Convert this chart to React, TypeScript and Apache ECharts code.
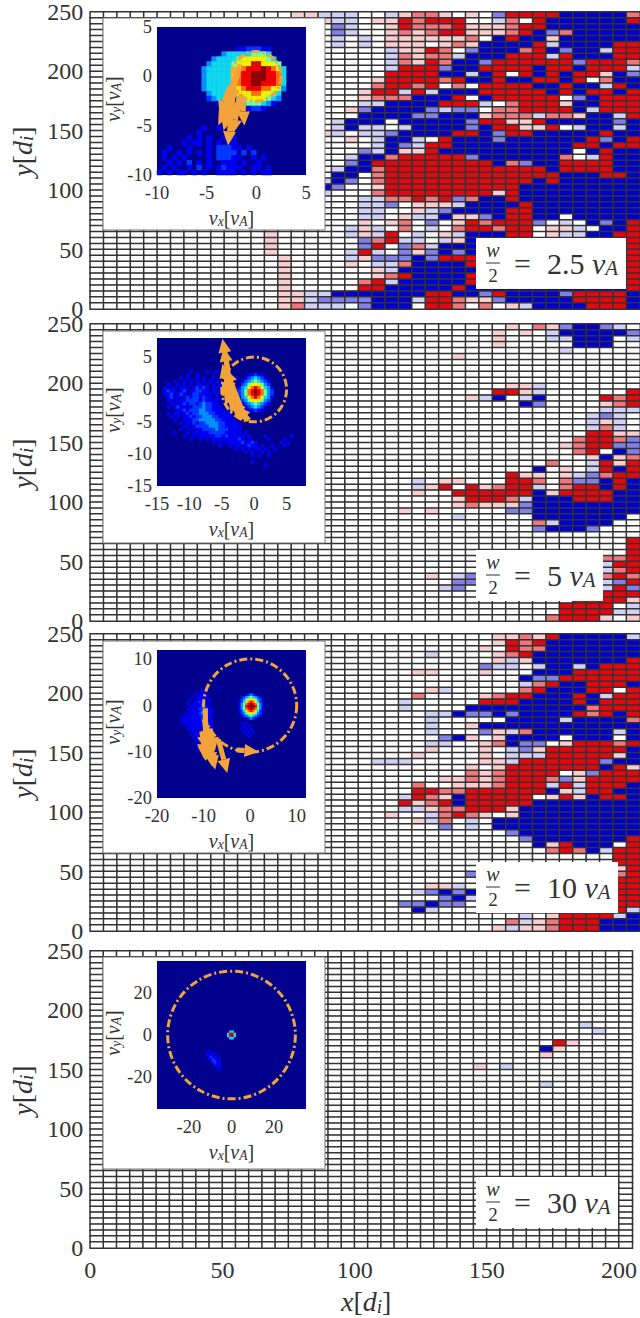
import React, { useEffect, useRef } from "react";
import * as echarts from "echarts";

const FONT = '"Liberation Serif", "DejaVu Serif", serif';
const ORANGE = "#F2A33A";
const TEXT = "#333333";

// level codes of the colour cells: B b c . p r R
const CELL_LEVELS: Record<string, number> = { B: -1, b: -0.5, c: -0.18, ".": 0, p: 0.2, r: 0.55, R: 1 };
const COLUMNS = 41;
const ROWS = 50;

// each row is right-aligned on the last column, first row is the top of the panel
const fieldA = [
  "ppccc..cprrp.p.bRRRRBBBBBr", "pcc.ppRrRRR..cr.RBBBBBBR", ".bc..pRrrrRppprRRBBBBBBB", ".bc..prprRRppprRBbrBBBBB",
  ".c.c.ppppppr.BRBBpBBBBBB", ".c.c.ppp.prpBBBBRcBBBBRR", ".....cppRr.bBBBrRBbBBcRR", ".....crprrcBBBRRRcRBBBRR",
  ".....crpRrBBbRRRRRRbRRRr", ".....cRRRbBBRRRRBRRBRRRc", ".....RRRRBBcBR.RBRBRRpBb", "....pRRRRrRBBRBBRRBR.rBB",
  "....rRRrR.r.RRRRBBRBBcRB", "...pRRcRcBBBRRRRRBRBRRBR", "...prrrBBBR.BRRRRR.bBRRR", "...ccBBBBRRRc.rRRRpBBRRR",
  "..pbBBBBbcbb.rrRRRRBcRRR", "...BBBBbbBBBprrrcrrpBBcR", ".cBBB.BBBBBbRRppRBBBBBbB", ".cBcc.cBBBBbBRRppR.cBBcB",
  "pc.ccbBBBBRRBbRRBBBBBRBB", "..p.cBBc.RBBBbBBBBBBRbBR", "....cBbcRRBBBBBBBBBRRBRR", "...bcBppRBBBBBBBBBB.BRBB",
  "..cBBrRRRRRbBBBBBBr.cRBB", "..bBRRRRRRRRRBrbBBRRRRBB", ".cBBrRRRRRRRRRRRRBRRRRBB", ".BB.rRRRRRRRRRRRRRBBBRRB",
  "cBb.rRRRRRRRRRRRBRBBBBBB", "Bb..pRRRRRRRRRRBBBBBBBBB", "c...rRRRRRRRRpRBBBBBBBBB", "...ccrrRrRbrBBRBBBBBBBBB",
  "...ccb.pppcBBBBRBBBBBBBB", "...cc..pcbBBBBRRBBBBBBBB", "...cc.pccBppbBRRBB.BBBBB", "...p.pr.b.pRrRRRb.c.BbBR",
  "..cpc.r.c.rRRrRR.ppc.BBR", "p.....cpcR.c.pcBBBRR.pccBBRR", "p......brRcc.cpBBBBBBBBBBBBR", "p......bR.brcBBBBBBBBBBBBBBR",
  "p.....cRc.bpbBbBBBBBBBBBBBBR", ".p....cpbbbBbRRRBBBBBBBBBBBR", ".p....p.ccrBBBBRBBBBBBBBBBBR", ".p......pcBBBBBBRBBBBBBBBBBR",
  ".p......prRBBBBRRBBBBBBBBBBR", ".p.....rRcBBBBBRRBBBBBBBBBBR", ".p.....RRBBBBBRBBBBBBBBBBBBR", ".ppccBBBBBBBRRBBbRBBBBbRRRRB",
  ".ppcbbbbBBBcRRrppbBBBBBRRRRB", ".prccc.bBBB.RRr.r.pcBBBBRRRB",
];
const fieldB = [
  "p.rpbBBbc.", "p.p.cBBBBBb", "p...ccBBB.c", "p.....BBB..", "c.....", "p.............", "", "", "", "",
  "ppc.......", "RRpc......R", "pcB.cB....RrR", "Bb....prR", "ccc", "cbc.", "cpc.", "crc.", "RRpp", "rRRrb",
  "prRRbb", "rR.Bb", "pBpr", "r..cRpR", "B.p.cRBR", "Rpp.pcbrRR", "c.pp...RRr.rbbBRB", "cpR.RprRRc.rRRBRB", "p..RRRRRRBpRRRRBB", "pRRRrcBBBRRRBB",
  "prpppbBBBBBBBB", "p.p.....bbBBBBBBBB", "c.....BBBBBBB.", "rcBBBB..", "bBBBb...", "", "R", "R", "p.....R", "rrR",
  "cRR", "crR", "p.cb.........rRr", "bb.........cbR", "cb..........cRb", "RRRR", "RRRRp", "RRRR.c", "RRRRcc", "rRRRp.p",
];
const fieldC = [
  "pprpRBBBBBc", "pRrRBBBBBBB", "p.RrrBBBBBBB", "c....prRBBBBBBBB", "pcpBBBBBBBR", "bcc.cBBcBRRR", "pp...p...BBBRRRRR", "BbbRRRRRR", "crRBBRRRB", "pc.....rRBBBRR.R",
  "r....prRRBBBRBcRR", "c.....RRRBBBBRBRRR", "c....BBBBBBBBBrRRR", "ccBbbBbBBBBRrRBR", "c.....BBBBcBBBBr", "c..pBBBBBBBBBBBB", "c...bpcrBBBBBBcB", "bBp.pBBBB.BBB.B", "cc..prBbb.pRRRrR", "p...p.cbpRRRRRRB",
  "p....p.cccRRRRRpB", "ccc.....ppcRRRRRRbBB", "p.pRRRRRRRBRp", "rprRRRR.pbRRR", "pprprRRRrbpRRRR", "r..ppprRRRcRcRRRB", "RRrrRRRRRRBpcRRBB", "cRrpBRRRRR.pRpBRRB", "RprRBRRRRRBBBBBBBB", "ccprrRRRpBBBBBBBBB",
  "p..crRrp.pBBBBBBBBB", "pcr.c.BBBBBBBBBBB", "b.c.BBBBBBBBBBB", "bBBBBBBBBB", "bBBBBBBBR", "BpRBBB.R", "rRrBcRR", "RR", "RR", "pR",
  "b..........rR", "RR", "ppc...........RR", "cbBbB..........RR", "bBc..........RR", "bbBbb...........RR", "Bc.....pcp.pRRRRc", "c.pRRRRcB", "rcprRRRBBB", "pcpprRRRBBB",
];
const fieldD = [
  "", "", "", "", "", "", "", "", "", "", "", "", "c...", "c..", "", "Rp....", "Bp.....", "p......", "", "p.c.........",
  "", "", "c......", "", "", "", "", "", "", "", "", "", "", "", "", "", "", "", "", "",
  "", "", "", "", "", "", "", "", "", "",
];

// velocity maps: one digit per cell, '|' only groups the columns, first row is the top
const mapA = [
  "", "", "", "", "................1122211", ".............3444445554", "...........3444456666654", "..........344445666886665",
  ".........34444466788898764", ".........34444467889998874", ".........34444467889998874", ".........34444467889988874",
  ".........34444466788877663", "..........344445666776654", "..........2344..456666543", "............111.34555431",
  "..................1221", "", "", "", ".........1..1", "........1.....1", "......1.1.1..1.1", ".....1.11.1.1.11",
  "..1...1...1.22211.1", ".1..1.1.1.1.2222.2.2", ".1.1.1....1.22211..1.1", "..1.1.2.1.1..111.1..1", ".1.1..1.2.1.12111..11.1", "1.1.11.1.1..1111.1.1.11",
];
const mapB = [
  "", "", "", "", "", "", "", "", "", "",
  ".....|.....|1....|1..1.|.....", ".....|....1|..1..|..1..|.....|...11211", ".....|..1.1|..1.1|..1..|....1|..1234321", ".....|1..1.|1.1.1|.1.1.|..1..|.123454321",
  "...1.|.1.1.|1.11.|1.1.1|.....|.235666532", "..1.1|1.111|.1212|1.11.|....1|13467876431", "..121|1.12.|11221|1.1.1|.1...|23578987532", "..112|.121.|12211|11.1.|.1..1|23578987532",
  "...12|11.12|12212|11.1.|..1..|13467876431", "...11|.1112|22212|1111.|1....|.235666532", "....1|1.121|22123|2211.|.1...|.123454321", "...1.|1211.|12223|22111|.....|..1234321",
  ".....|.1121|22233|22111|1.1..|...11211", "...1.|11.12|12233|32211|11...", "....1|.1.11|21223|33221|111..", ".....|1..11|12233|33322|1111.",
  ".....|..1.1|12122|33332|21111", ".....|...11|.1222|23332|21111|1", ".....|..1..|1.112|22232|22111|1", ".....|1...1|.1111|12222|21111|1.1",
  ".....|...1.|.1.11|11122|12111|11.1.|...1.|.....|.1", ".....|.....|1..1.|1.111|11111|21.1.|....1|....1", ".....|.....|.....|..1.1|.1111|12112|1....|...1.|1", ".....|.....|.....|....1|..1.1|1.121|1.1..|1...1",
  ".....|.....|.....|.....|....1|.1.1.|11.1.|.1..", ".....|.....|.....|.....|.....|..1.1|..1.1", ".....|.....|.....|.....|.....|....1|.1..1", "", ".....|.....|.....|.....|.....|....1", ".....|.....|.....|.....|.....|.....|...1",
];
const mapC = [
  "", "", "", "", "", "", "", "", "", "", "", "", "", "", "", "",
  ".....|.....|.....|.....|.....|.1...", ".....|.....|.....|....1|.1...", ".....|.....|.....|..1.1|1....",
  ".....|.....|.....|.1.11|.1...|.....|.....|...12321", ".....|.....|.....|1.111|11...|.....|.....|.123454321", ".....|.....|....1|..111|1.1..|.....|.....|.235666532",
  ".....|.....|...1.|.1121|1.1..|.....|.....|12467876421", ".....|.....|...1.|11112|11...|.....|.....|13578987531", ".....|.....|....1|.1112|211..|.....|.....|13589998531",
  ".....|.....|...1.|11122|2211.|.....|.....|13578987531", ".....|.....|...11|11.12|3211.|.....|.....|12467876421", ".....|.....|..1.1|11123|3211.|.....|.....|.235666532",
  ".....|.....|.1.11|11112|3211.|.....|.....|.123454321", ".....|.....|1.111|11112|2211.|.....|.....|...12321", ".....|.....|.1111|11112|2111.", ".....|.....|1.111|11111|1111.|.....|.....|.1.1",
  ".....|.....|.1.11|11111|1111.|.....|.....|..1.1", ".....|.....|...11|11111|1111.|.....|.....|..1..1", ".....|.....|...1.|1.111|1111.|.....|.....|.1.1.1", ".....|.....|.....|11.11|1111.|.....|.....|..1.1.1",
  ".....|.....|....1|.1111|.111.|.....|.....|...1.1", ".....|.....|.....|1111.|1.1..|.....|.....|....1", ".....|.....|.....|.1.11|.1...", ".....|.....|.....|..111|1....", ".....|.....|.....|.1.1.|.1...", ".....|.....|.....|..11.|1....", ".....|.....|.....|...1.", ".....|.....|.....|..1..",
];
const mapD = [
  "", "", "", "", "", "", "", "", "", "", "", "", "", "", "", "", "", "", "", "", "", "", "", "", "", "", "", "", "", "", "", "", "",
  ".....|.....|.....|.....|.....|.....|....|44", ".....|.....|.....|.....|.....|.....|...|4884", ".....|.....|.....|.....|.....|.....|...|4894", ".....|.....|.....|.....|.....|.....|....|44",
  "", "", "", "", "",
  ".....|.....|.....|.....|....1|..", ".....|.....|.....|.....|...1.|11", ".....|.....|.....|.....|...11|111", ".....|.....|.....|.....|....1|211.1", ".....|.....|.....|.....|....1|1211",
  ".....|.....|.....|.....|.....|12211", ".....|.....|.....|.....|.....|.1211", ".....|.....|.....|.....|.....|..111", ".....|.....|.....|.....|.....|...11", ".....|.....|.....|.....|.....|....1",
];

const insetRangesX = [[-10, 5], [-15, 8], [-20, 12], [-35, 35]];
const insetRangesY = [[-10, 5], [-15, 8], [-20, 12], [-35, 35]];
const insetCells = [30, 46, 64, 70];
const insetTicksX = [[-10, -5, 0, 5], [-15, -10, -5, 0, 5], [-20, -10, 0, 10], [-20, 0, 20]];
const insetTicksY = [[-10, -5, 0, 5], [-15, -10, -5, 0, 5], [-20, -10, 0, 10], [-20, 0, 20]];
const circleRadius = [2.5, 5, 10, 30];
const halfWidths = ["2.5", "5", "10", "30"];
const mainTicksX = [0, 50, 100, 150, 200];
const mainTicksY = [0, 50, 100, 150, 200, 250];

// arrows: from vx, vy to vx, vy
const arrowsA = [
  [-1.85, 0.9, -3.5, -4.1], [-2, -1.4, -3.85, -4.95], [-2.35, -2.1, -2.85, -7], [-1.7, -2.1, -2.35, -5.8], [-1.35, -2.8, -1.2, -5],
  [-2.7, -1.1, -3.7, -3.9], [-2.2, -1.5, -3.3, -5.5], [-1.6, 1.2, -2.7, -2.6], [-1.5, -1.8, -2.6, -4.6], [-1.2, -2.4, -2.4, -3.8],
];
const arrowsB = [
  [-1.1, -4.65, -4.7, 2.3], [-1.6, -3.9, -4.4, 3.2], [-2.1, -4.4, -5, 1.3], [-2.7, -3.4, -4.7, 0], [-4, 2.8, -4.9, 7.9], [-3.6, -1, -4.5, 2],
  [-1.3, -4.5, -3.4, -1.6], [-2, -4.3, -4, -1.2], [-3.9, 0, -4.9, 4], [-3.8, 1.2, -4.7, 6.5], [-0.8, -4.8, -2.8, -2.6],
];
const arrowsC = [
  [-9.6, -0.6, -9.6, -12], [-9.6, -3.5, -7.5, -13.9], [-8.9, -5.6, -8.2, -13.2], [-6.8, -7.4, -4.9, -14.6], [-10, -5.6, -10, -11.4], [-10.4, -5.6, -9.3, -11.8],
  [-2.9, -9.6, 1.8, -10], [-9.8, -3, -9.1, -9], [-8.6, -5, -7.6, -10], [-9.2, -5, -8.8, -9.5], [-10.2, -5.8, -9.4, -9.6],
];
const arrowsD: number[][] = [];

const fields = [fieldA, fieldB, fieldC, fieldD];
const maps = [mapA, mapB, mapC, mapD];
const arrows = [arrowsA, arrowsB, arrowsC, arrowsD];

const panelTop = [12, 324, 634, 951];
const PANEL_H = 297;
const PANEL_L = 89;
const PANEL_W = 553.5;
const boxTop = [18, 331, 641, 957];
const insetTop = [27, 338, 650, 961];
const labelTop = [238, 550, 862, 1177];
const labelRight = [626, 603, 618, 618];

function fieldData(rows: string[]) {
  const out: number[][] = [];
  for (let r = 0; r < ROWS; r++) {
    const t = (rows[r] || "").padStart(COLUMNS, ".");
    for (let c = 0; c < COLUMNS; c++) out.push([c, r, CELL_LEVELS[t[c]] ?? 0]);
  }
  return out;
}
function mapData(rows: string[]) {
  const out: number[][] = [];
  rows.forEach((s, r) => {
    const t = s.replace(/\|/g, "");
    for (let c = 0; c < t.length; c++) if (t[c] !== ".") out.push([c, r, Number(t[c])]);
  });
  return out;
}
function nameStyle(size: number, padding: number[]) {
  return {
    fontFamily: FONT, fontSize: size, color: TEXT, padding,
    rich: {
      i: { fontStyle: "italic", fontFamily: FONT, fontSize: size, color: TEXT },
      s: { fontStyle: "italic", fontFamily: FONT, fontSize: size * 0.68, color: TEXT, padding: [size * 0.35, 0, 0, 0] },
    },
  };
}

function buildOption() {
  const grid: any[] = [];
  const xAxis: any[] = [];
  const yAxis: any[] = [];
  const series: any[] = [];
  const graphic: any[] = [];
  const colNames = Array.from({ length: COLUMNS }, (_, i) => String(i));
  const rowNames = Array.from({ length: ROWS }, (_, i) => String(i));

  for (let p = 0; p < 4; p++) {
    grid.push({ left: PANEL_L, top: panelTop[p], width: PANEL_W, height: PANEL_H });
    const a = p * 2;
    xAxis.push({ gridIndex: p, type: "category", data: colNames, show: false });
    yAxis.push({ gridIndex: p, type: "category", data: rowNames, inverse: true, show: false });
    xAxis.push({
      gridIndex: p, type: "value", min: 0, max: 205, show: p === 3, position: "bottom", splitLine: { show: false },
      axisLine: { show: false }, axisTick: { show: false },
      axisLabel: { customValues: mainTicksX, fontFamily: FONT, fontSize: 24, color: TEXT, margin: 10 },
      name: p === 3 ? "{i|x}[{i|d}{s|i}]" : "", nameLocation: "middle", nameGap: 39, nameTextStyle: nameStyle(28, [0, 0, 0, 10]),
    });
    yAxis.push({
      gridIndex: p, type: "value", min: 0, max: 250, position: "left", splitLine: { show: false },
      axisLine: { show: false }, axisTick: { show: false },
      axisLabel: { customValues: mainTicksY, fontFamily: FONT, fontSize: 24, color: TEXT, margin: 7 },
      name: "{i|y}[{i|d}{s|i}]", nameLocation: "middle", nameRotate: 90, nameGap: 48, nameTextStyle: nameStyle(28, [0, 0, 0, 18]),
    });
    series.push({
      type: "heatmap", xAxisIndex: a, yAxisIndex: a, data: fieldData(fields[p]), z: 2, silent: true,
      itemStyle: { borderColor: "#333333", borderWidth: 1.5 }, emphasis: { disabled: true }, progressive: 0,
    });
  }
  for (let p = 0; p < 4; p++) {
    const g = 4 + p;
    const [x0, x1] = insetRangesX[p];
    const [y0, y1] = insetRangesY[p];
    grid.push({ left: 157, top: insetTop[p], width: 149, height: 148, show: true, backgroundColor: "#00008c", borderWidth: 0, z: 4 });
    const a = 8 + p * 2;
    const names = Array.from({ length: insetCells[p] }, (_, i) => String(i));
    xAxis.push({ gridIndex: g, type: "category", data: names, show: false });
    yAxis.push({ gridIndex: g, type: "category", data: names, inverse: true, show: false });
    xAxis.push({
      gridIndex: g, type: "value", min: x0, max: x1, position: "bottom", z: 6, splitLine: { show: false },
      axisLine: { show: false }, axisTick: { show: false },
      axisLabel: { customValues: insetTicksX[p], fontFamily: FONT, fontSize: 18.5, color: TEXT, margin: 8 },
      name: "{i|v}{s|x}[{i|v}{s|A}]", nameLocation: "middle", nameGap: 32, nameTextStyle: nameStyle(20, [0, 0, 0, 0]),
    });
    yAxis.push({
      gridIndex: g, type: "value", min: y0, max: y1, position: "left", z: 6, splitLine: { show: false },
      axisLine: { show: false }, axisTick: { show: false },
      axisLabel: { customValues: insetTicksY[p], fontFamily: FONT, fontSize: 18.5, color: TEXT, margin: 5 },
      name: "{i|v}{s|y}[{i|v}{s|A}]", nameLocation: "middle", nameRotate: 90, nameGap: 34, nameTextStyle: nameStyle(20, [0, 0, 0, 4]),
    });
    series.push({
      type: "heatmap", xAxisIndex: a, yAxisIndex: a, data: mapData(maps[p]), z: 4, silent: true,
      emphasis: { disabled: true }, progressive: 0,
    });
    series.push({
      type: "custom", xAxisIndex: a + 1, yAxisIndex: a + 1, z: 5, silent: true,
      data: [[0, 0, circleRadius[p]]], encode: { x: 0, y: 1 },
      renderItem: (_: any, api: any) => {
        const c = api.coord([api.value(0), api.value(1)]);
        const s = api.size([api.value(2), api.value(2)]);
        return {
          type: "circle", shape: { cx: c[0], cy: c[1], r: s[0] },
          style: { fill: "none", stroke: ORANGE, lineWidth: 3, lineDash: [8, 3, 2, 3] },
        };
      },
    });
    if (arrows[p].length) {
      series.push({
        type: "custom", xAxisIndex: a + 1, yAxisIndex: a + 1, z: 5, silent: true, clip: false,
        data: arrows[p], encode: { x: [0, 2], y: [1, 3] },
        renderItem: (_: any, api: any) => {
          const f = api.coord([api.value(0), api.value(1)]);
          const t = api.coord([api.value(2), api.value(3)]);
          const dx = t[0] - f[0], dy = t[1] - f[1];
          const len = Math.hypot(dx, dy) || 1;
          const ux = dx / len, uy = dy / len;
          const back = [t[0] - ux * 14, t[1] - uy * 14];
          return {
            type: "group",
            children: [
              { type: "line", shape: { x1: f[0], y1: f[1], x2: back[0], y2: back[1] }, style: { stroke: ORANGE, lineWidth: 5 } },
              { type: "polygon", shape: { points: [[t[0], t[1]], [back[0] - uy * 6.5, back[1] + ux * 6.5], [back[0] + uy * 6.5, back[1] - ux * 6.5]] }, style: { fill: ORANGE } },
            ],
          };
        },
      });
    }
    graphic.push({ type: "rect", z: 3, shape: { x: 103, y: boxTop[p], width: 222, height: 212 }, style: { fill: "#ffffff", stroke: "#777777", lineWidth: 1 } });
    const lt = labelTop[p];
    graphic.push({ type: "rect", z: 3, shape: { x: 476, y: lt, width: labelRight[p] - 476, height: 51 }, style: { fill: "#ffffff" } });
    graphic.push({ type: "text", z: 7, x: 493, y: lt + 12, style: { text: "w", font: `italic 20px ${FONT}`, fill: TEXT, align: "center", verticalAlign: "middle" } });
    graphic.push({ type: "text", z: 7, x: 493, y: lt + 37, style: { text: "2", font: `19px ${FONT}`, fill: TEXT, align: "center", verticalAlign: "middle" } });
    graphic.push({ type: "line", z: 7, shape: { x1: 486, y1: lt + 25, x2: 500, y2: lt + 25 }, style: { stroke: TEXT, lineWidth: 1 } });
    graphic.push({ type: "text", z: 7, x: 514, y: lt + 25, style: { text: "=", font: `30px ${FONT}`, fill: TEXT, verticalAlign: "middle" } });
    graphic.push({
      type: "text", z: 7, x: 547, y: lt + 25,
      style: {
        text: `${halfWidths[p]} {i|v}{s|A}`, font: `30px ${FONT}`, fill: TEXT, verticalAlign: "middle",
        rich: {
          i: { font: `italic 30px ${FONT}`, fill: TEXT },
          s: { font: `italic 21px ${FONT}`, fill: TEXT, padding: [10, 0, 0, 0] },
        },
      },
    });
  }
  return {
    animation: false, backgroundColor: "#ffffff", grid, xAxis, yAxis, series, graphic,
    visualMap: [
      { show: false, type: "continuous", seriesIndex: [0, 1, 2, 3], dimension: 2, min: -1, max: 1, inRange: { color: ["#0000d0", "#ffffff", "#e6060e"] } },
      { show: false, type: "continuous", seriesIndex: series.map((s, i) => (s.type === "heatmap" && i > 3 ? i : -1)).filter((i) => i >= 0), dimension: 2, min: 0, max: 9, inRange: { color: ["#00008c", "#0000f0", "#0038ff", "#0090ff", "#10d8f0", "#70ffa0", "#f0f000", "#ff7000", "#f00000", "#900000"] } },
    ],
  };
}

export default function App() {
  const ref = useRef<HTMLDivElement>(null);
  useEffect(() => {
    const chart = echarts.init(ref.current!, undefined, { renderer: "svg" });
    chart.setOption(buildOption() as any);
    return () => chart.dispose();
  }, []);
  return <div ref={ref} style={{ position: "absolute", left: 0, top: 0, width: 640, height: 1318, overflow: "hidden" }} />;
}
